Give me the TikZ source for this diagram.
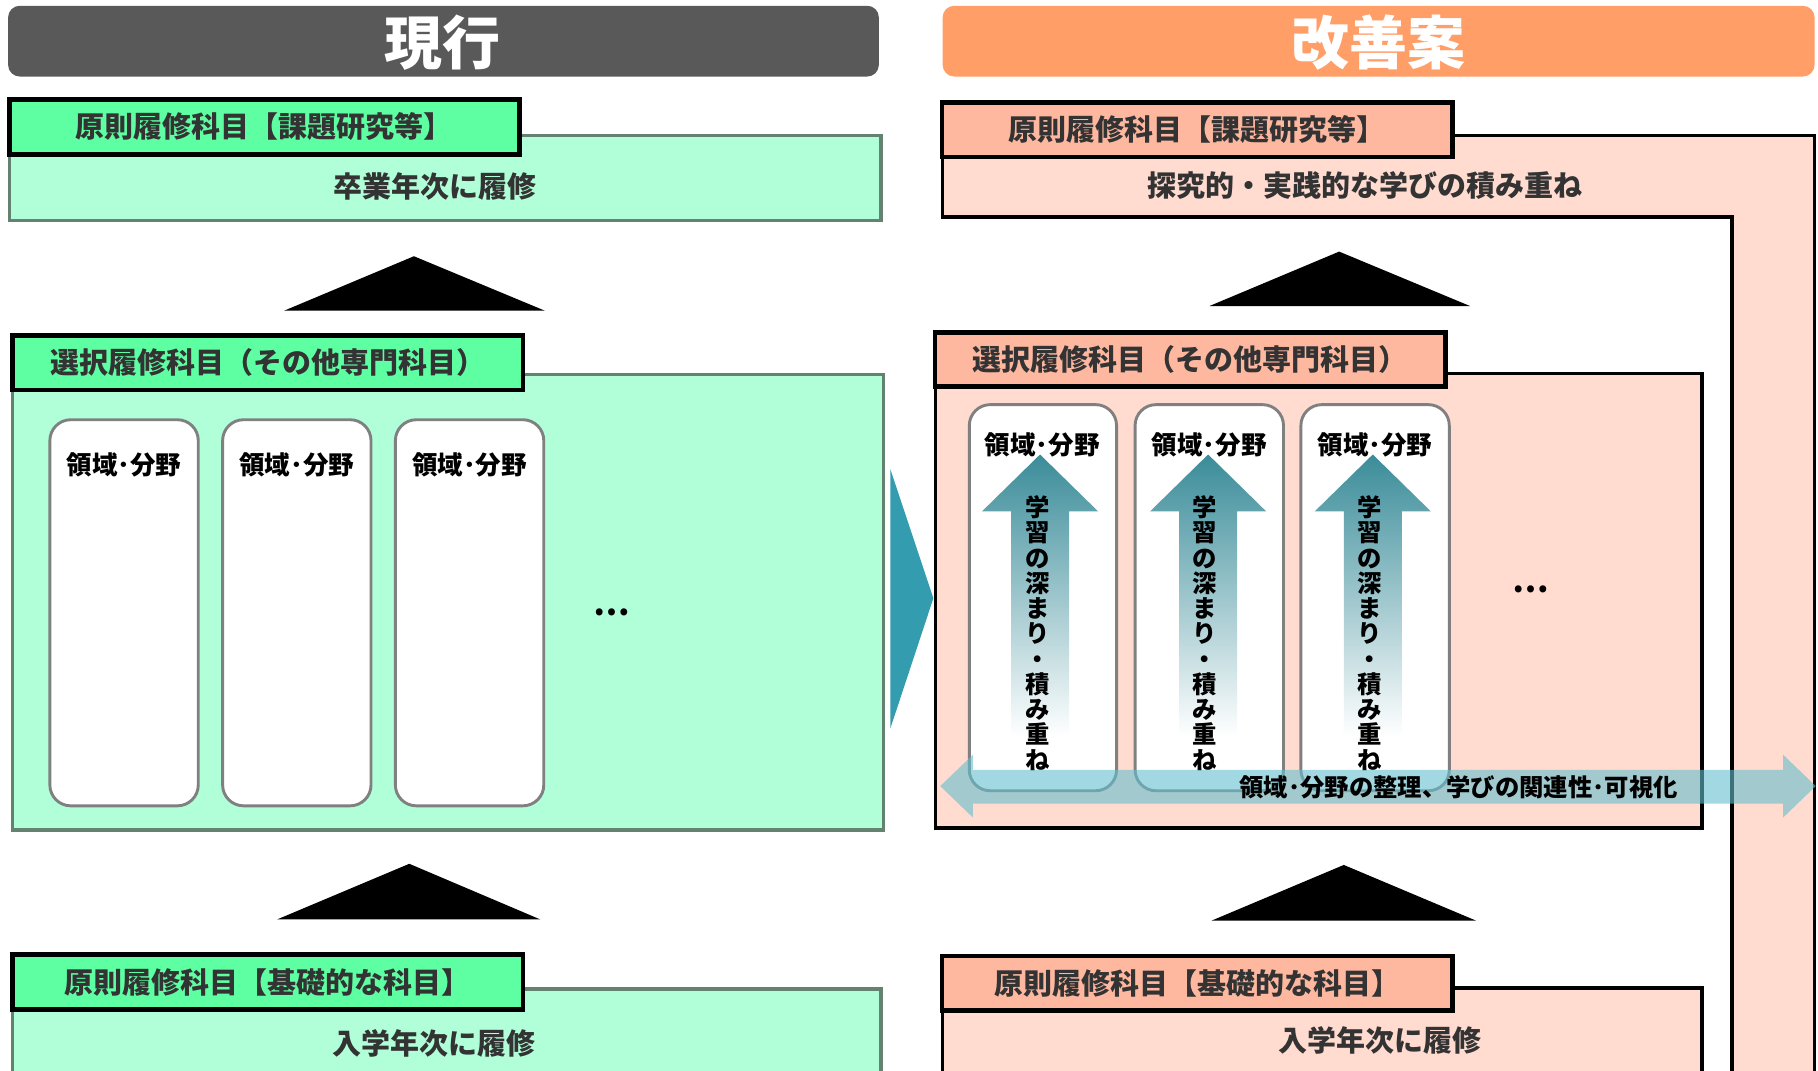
\documentclass[tikz,border=0pt]{standalone}
\usepackage{fontspec}
\setmainfont{Noto Sans CJK JP}
\usetikzlibrary{positioning}
\definecolor{headgray}{RGB}{89,89,89}
\definecolor{headorange}{RGB}{255,158,102}
\definecolor{greentab}{RGB}{94,255,162}
\definecolor{greenbody}{RGB}{176,255,216}
\definecolor{greenline}{RGB}{100,130,112}
\definecolor{pinktab}{RGB}{255,184,160}
\definecolor{pinkbody}{RGB}{255,219,208}
\definecolor{tealarrow}{RGB}{51,156,174}
\definecolor{tealtop}{RGB}{58,140,153}
\definecolor{tealmid}{RGB}{140,205,218}
\definecolor{linkblue}{RGB}{100,190,205}
\definecolor{textgray}{RGB}{51,51,51}
\tikzset{
  titletext/.style={text=white, font=\fontsize{50}{50}\selectfont\bfseries},
  tabgreen/.style={draw=black, line width=4, fill=greentab, minimum width=440, minimum height=47,
    text=textgray, font=\fontsize{25}{25}\selectfont\bfseries},
  tabpink/.style={tabgreen, fill=pinktab},
  bodytext/.style={text=textgray, font=\fontsize{25}{25}\selectfont\bfseries},
  fieldbox/.style={draw=gray, fill=white, line width=2.5, rounded corners=18},
  fieldlabel/.style={font=\fontsize{22}{22}\selectfont\bfseries},
  deepen/.style={top color=tealtop, middle color=tealmid, bottom color=white},
  vtext/.style={align=center, inner sep=0, font=\fontsize{21}{21.8}\selectfont\bfseries},
  linklabel/.style={font=\fontsize{21}{21}\selectfont\bfseries},
  dots/.style={font=\fontsize{28}{28}\selectfont\bfseries}
}
\begin{document}
\begin{tikzpicture}[x=1pt, y=-1pt]
\useasboundingbox (0,0) rectangle (1568,923);
\clip (0,0) rectangle (1568,923);
% titles
\fill[headgray, rounded corners=10] (7,5) rectangle (758,66);
\node[titletext] (nowtitle) at (382,37) {現行};
\fill[headorange, rounded corners=10] (813,5) rectangle (1565,66);
\node[titletext] (newtitle) at (1189,37) {改善案};
% current plan
\filldraw[fill=greenbody, draw=greenline, line width=3] (8,117) rectangle (760,190);
\node[tabgreen] (nowtop) at (228,109.5) {原則履修科目【課題研究等】};
\node[bodytext] (nowtoptext) at (375,161) {卒業年次に履修};
\fill (245,268) -- (357,221) -- (470,268) -- cycle;
\filldraw[fill=greenbody, draw=greenline, line width=3] (11,323) rectangle (762,716);
\node[tabgreen] (nowmid) at (231,313) {選択履修科目（その他専門科目）};
\draw[fieldbox] (43,362) rectangle (171,695);
\draw[fieldbox] (192,362) rectangle (320,695);
\draw[fieldbox] (341,362) rectangle (469,695);
\node[fieldlabel] (nowfield1) at (107,401) {領域･分野};
\node[fieldlabel] (nowfield2) at (256,401) {領域･分野};
\node[fieldlabel] (nowfield3) at (405,401) {領域･分野};
\node[dots] (nowmore) at (528,528) {…};
\fill (239,793) -- (353,745) -- (466,793) -- cycle;
\filldraw[fill=greenbody, draw=greenline, line width=3] (11,853) rectangle (760,940);
\node[tabgreen] (nowbase) at (231,847) {原則履修科目【基礎的な科目】};
\node[bodytext] (nowbasetext) at (374,900) {入学年次に履修};
% change
\fill[tealarrow] (768,405) -- (805,516) -- (768,628) -- cycle;
% proposed plan
\filldraw[fill=pinkbody, draw=black, line width=3] (813,117) -- (1565,117) -- (1565,940) -- (1494,940) -- (1494,187) -- (813,187) -- cycle;
\node[tabpink] (newtop) at (1032.5,112) {原則履修科目【課題研究等】};
\node[bodytext] (newtoptext) at (1177,160) {探究的・実践的な学びの積み重ね};
\fill (1043,264) -- (1155,217) -- (1268,264) -- cycle;
\filldraw[fill=pinkbody, draw=black, line width=3] (807,322) rectangle (1468,714);
\node[tabpink] (newmid) at (1026.5,310) {選択履修科目（その他専門科目）};
\draw[fieldbox] (836,349) rectangle (963,682);
\draw[fieldbox] (979,349) rectangle (1107,682);
\draw[fieldbox] (1122,349) rectangle (1250,682);
\shade[deepen] (897,392) -- (947,441) -- (922,441) -- (922,635) -- (872,635) -- (872,441) -- (847,441) -- cycle;
\shade[deepen] (1042,392) -- (1092,441) -- (1067,441) -- (1067,635) -- (1017,635) -- (1017,441) -- (992,441) -- cycle;
\shade[deepen] (1184,392) -- (1234,441) -- (1209,441) -- (1209,635) -- (1159,635) -- (1159,441) -- (1134,441) -- cycle;
\node[fieldlabel] (newfield1) at (899,384) {領域･分野};
\node[fieldlabel] (newfield2) at (1043,384) {領域･分野};
\node[fieldlabel] (newfield3) at (1186,384) {領域･分野};
\node[vtext] (deep1) at (895,546) {学\\習\\の\\深\\ま\\り\\・\\積\\み\\重\\ね};
\node[vtext] (deep2) at (1039,546) {学\\習\\の\\深\\ま\\り\\・\\積\\み\\重\\ね};
\node[vtext] (deep3) at (1181,546) {学\\習\\の\\深\\ま\\り\\・\\積\\み\\重\\ね};
\node[dots] (newmore) at (1320,508) {…};
\fill[linkblue, opacity=0.6] (811,678) -- (839,651) -- (839,664) -- (1538,664) -- (1538,651) -- (1566,678) -- (1538,705) -- (1538,693) -- (839,693) -- (839,705) -- cycle;
\node[linklabel] (linktext) at (1258,679) {領域･分野の整理、学びの関連性･可視化};
\fill (1045,794) -- (1159,746) -- (1273,794) -- cycle;
\filldraw[fill=pinkbody, draw=black, line width=3] (813,852) rectangle (1468,940);
\node[tabpink] (newbase) at (1032.5,848) {原則履修科目【基礎的な科目】};
\node[bodytext] (newbasetext) at (1190,897) {入学年次に履修};
\end{tikzpicture}
\end{document}
